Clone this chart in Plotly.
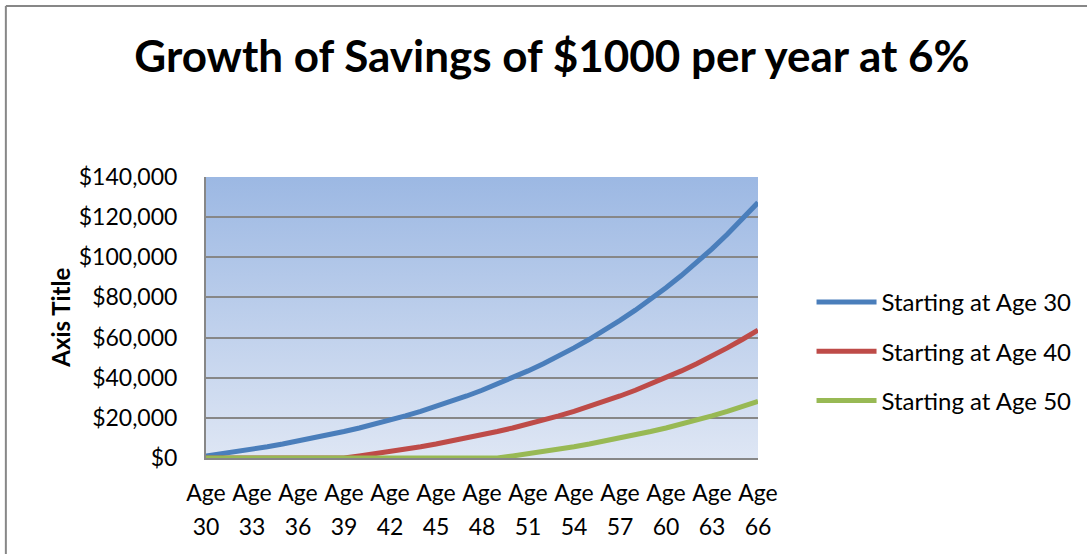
import base64
import plotly.graph_objects as go

# ---- data ----
ages = [30, 31, 32, 33, 34, 35, 36, 37, 38, 39, 40, 41, 42, 43, 44, 45, 46, 47, 48,
        49, 50, 51, 52, 53, 54, 55, 56, 57, 58, 59, 60, 61, 62, 63, 64, 65, 66]
tick_ages = [30, 33, 36, 39, 42, 45, 48, 51, 54, 57, 60, 63, 66]
tick_words = ["Age"] * 13
tick_numbers = ["30", "33", "36", "39", "42", "45", "48", "51", "54", "57", "60", "63", "66"]
start30 = [1000, 2060, 3184, 4375, 5637, 6975, 8394, 9897, 11491, 13181, 14972,
           16870, 18882, 21015, 23276, 25673, 28213, 30906, 33760, 36786, 39993,
           43392, 46996, 50816, 54865, 59156, 63706, 68528, 73640, 79058, 84802,
           90890, 97343, 104184, 111435, 119121, 127268]
start40 = [0, 0, 0, 0, 0, 0, 0, 0, 0, 0,
           1000, 2060, 3184, 4375, 5637, 6975, 8394, 9897, 11491, 13181, 14972,
           16870, 18882, 21015, 23276, 25673, 28213, 30906, 33760, 36786, 39993,
           43392, 46996, 50816, 54865, 59156, 63706]
start50 = [0, 0, 0, 0, 0, 0, 0, 0, 0, 0, 0, 0, 0, 0, 0, 0, 0, 0, 0, 0,
           1000, 2060, 3184, 4375, 5637, 6975, 8394, 9897, 11491, 13181, 14972,
           16870, 18882, 21015, 23276, 25673, 28213]
series_names = ["Starting at Age 30", "Starting at Age 40", "Starting at Age 50"]
series_colors = ["#4A7EBB", "#BE4B48", "#98B954"]

FONT = "Lato"
W, H = 1087, 554
L, R, T, B = 206, 1087 - 759, 177, 554 - 458
PW, PH = W - L - R, H - T - B

fig = go.Figure()
for name, vals, col in zip(series_names, [start30, start40, start50], series_colors):
    fig.add_trace(go.Scatter(
        x=ages, y=vals, name=name, mode="lines", legendgroup=name,
        line=dict(color=col, width=5), cliponaxis=False,
    ))

svg = ('<svg xmlns="http://www.w3.org/2000/svg" width="100" height="100" preserveAspectRatio="none">'
       '<defs><linearGradient id="g" x1="0" y1="0" x2="0" y2="1">'
       '<stop offset="0" stop-color="#9CB8E3"/><stop offset="1" stop-color="#DEE6F4"/>'
       '</linearGradient></defs><rect width="100" height="100" fill="url(#g)"/></svg>')
src = "data:image/svg+xml;base64," + base64.b64encode(svg.encode()).decode()

bx = (5.5 - L) / PW
by = 1 + (T - 6) / PH
fig.update_layout(
    width=W, height=H,
    margin=dict(l=L, r=R, t=T, b=B),
    paper_bgcolor="white", plot_bgcolor="rgba(0,0,0,0)",
    font=dict(family=FONT, size=23, color="black"),
    title=dict(text="<b>Growth of Savings of $1000 per year at 6%</b>",
               font=dict(family=FONT, size=44, color="black"),
               x=552 / W, xref="container", xanchor="center",
               y=1 - 57 / H, yref="container", yanchor="middle"),
    showlegend=True,
    legend=dict(x=1.095, y=1 - (280 - T) / PH, xanchor="left", yanchor="top",
                font=dict(family=FONT, size=24, color="black"),
                tracegroupgap=15, itemwidth=60, bgcolor="rgba(0,0,0,0)"),
    images=[dict(source=src, xref="paper", yref="paper", x=0, y=1, sizex=1, sizey=1,
                 sizing="stretch", xanchor="left", yanchor="top", layer="below")],
    shapes=[
        dict(type="line", xref="paper", yref="paper", x0=bx, x1=1 + R / PW + 0.05,
             y0=by, y1=by, line=dict(color="#878787", width=2)),
        dict(type="line", xref="paper", yref="paper", x0=bx, x1=bx,
             y0=by, y1=-B / PH - 0.05, line=dict(color="#878787", width=2)),
    ],
    annotations=[dict(text="<b>Axis Title</b>", textangle=-90, xref="paper", yref="paper",
                      x=(60 - L) / PW, y=0.5, showarrow=False, xanchor="center",
                      yanchor="middle", font=dict(family=FONT, size=24, color="black"))],
    xaxis=dict(range=[30, 66], tickvals=tick_ages, ticktext=tick_words,
               showgrid=False, zeroline=False, showline=True, linecolor="#878787",
               linewidth=2, ticks="", ticklabelstandoff=13, layer="below traces",
               tickfont=dict(family=FONT, size=23, color="black")),
    xaxis2=dict(range=[30, 66], tickvals=tick_ages, ticktext=tick_numbers,
                overlaying="x", side="bottom", anchor="y", matches="x",
                showgrid=False, zeroline=False, showline=False, ticks="",
                ticklabelstandoff=53, layer="below traces",
                tickfont=dict(family=FONT, size=23, color="black")),
    yaxis=dict(range=[0, 140000], dtick=20000, tickprefix="$", tickformat=",d",
               showgrid=True, gridcolor="#878787", gridwidth=1.5, zeroline=False,
               showline=True, linecolor="#878787", linewidth=2, ticks="",
               ticklabelstandoff=22, layer="below traces",
               tickfont=dict(family=FONT, size=23, color="black")),
)
# invisible helper trace so the second (number-label) axis is drawn
fig.add_trace(go.Scatter(x=[ages[0]], y=[start30[0]], xaxis="x2", mode="lines",
                         showlegend=False, hoverinfo="skip", line=dict(width=0)))

fig.write_html("out.html", config={"displayModeBar": False},
               post_script="document.body.style.margin='0px';")
